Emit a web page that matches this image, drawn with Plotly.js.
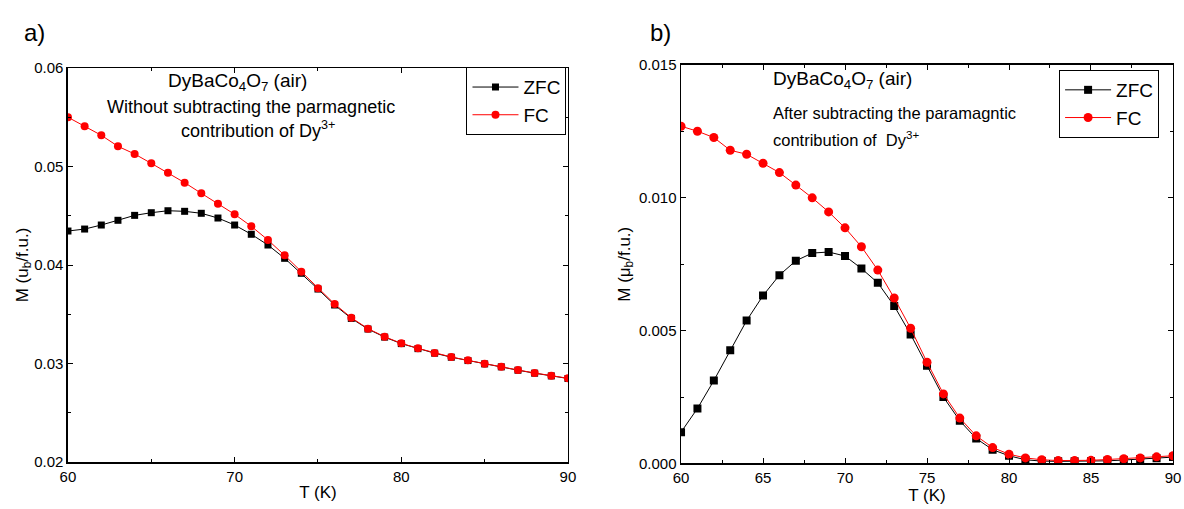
<!DOCTYPE html>
<html><head><meta charset="utf-8">
<script src="https://cdn.plot.ly/plotly-3.0.1.min.js"></script>
<style>html,body{margin:0;padding:0;background:#fff}#chart{width:1184px;height:509px}</style>
</head><body><div id="chart"></div>
<script>
const T = [60,61,62,63,64,65,66,67,68,69,70,71,72,73,74,75,76,77,78,79,80,81,82,83,84,85,86,87,88,89,90];

const zfcA = [0.04345,0.04365,0.04406,0.04454,0.04504,0.04531,0.04551,0.04545,0.04525,0.04477,0.04406,0.04312,0.04203,0.04068,0.03916,0.03756,0.03594,0.03458,0.03350,0.03268,0.03202,0.03151,0.03105,0.03064,0.03030,0.02996,0.02966,0.02932,0.02902,0.02874,0.02848];
const fcA  = [0.05500,0.05408,0.05317,0.05205,0.05127,0.05032,0.04937,0.04836,0.04728,0.04622,0.04515,0.04393,0.04254,0.04098,0.03932,0.03763,0.03604,0.03465,0.03354,0.03272,0.03205,0.03154,0.03107,0.03066,0.03032,0.02998,0.02968,0.02934,0.02904,0.02876,0.02850];

const zfcB = [0.00118,0.00207,0.00312,0.00426,0.00538,0.00632,0.00709,0.00763,0.00792,0.00796,0.00781,0.00734,0.00680,0.00593,0.00486,0.00368,0.00250,0.00161,0.00094,0.00052,0.00029,0.00014,0.00009,0.00008,0.00008,0.00008,0.00010,0.00013,0.00017,0.00020,0.00024];
const fcB  = [0.012695,0.012507,0.01227,0.01179,0.01164,0.01130,0.01095,0.01048,0.01000,0.00947,0.00887,0.00816,0.00728,0.00623,0.00509,0.00381,0.00262,0.00171,0.00104,0.00060,0.00035,0.00021,0.00014,0.00011,0.00011,0.00012,0.00015,0.00018,0.00021,0.00025,0.00029];

const seriesNames = ['ZFC','FC'];
const FONT = 'Liberation Sans, Arial, sans-serif';

const traces = [
  {x:T,y:zfcA,name:seriesNames[0],mode:'lines+markers',line:{color:'black',width:1},marker:{symbol:'square',size:7,color:'black'},xaxis:'x',yaxis:'y',legend:'legend'},
  {x:T,y:fcA,name:seriesNames[1],mode:'lines+markers',line:{color:'red',width:1},marker:{symbol:'circle',size:8,color:'red'},xaxis:'x',yaxis:'y',legend:'legend'},
  {x:T,y:zfcB,name:seriesNames[0],mode:'lines+markers',line:{color:'black',width:1},marker:{symbol:'square',size:8,color:'black'},xaxis:'x2',yaxis:'y2',legend:'legend2'},
  {x:T,y:fcB,name:seriesNames[1],mode:'lines+markers',line:{color:'red',width:1},marker:{symbol:'circle',size:9,color:'red'},xaxis:'x2',yaxis:'y2',legend:'legend2'}
];

const axCommon = {showgrid:false,zeroline:false,showline:true,linecolor:'black',linewidth:1.5,mirror:'allticks',ticks:'inside',ticklen:5,tickcolor:'black',tickfont:{family:FONT,size:15,color:'black'}};
const mnr = v => ({tickvals:v,ticks:'inside',ticklen:3,tickcolor:'black'});

const layout = {
  width:1184,height:509,margin:{l:0,r:0,t:0,b:0},paper_bgcolor:'white',plot_bgcolor:'white',
  font:{family:FONT,color:'black'},
  xaxis:Object.assign({},axCommon,{domain:[0.0574,0.4797],range:[60,90],tickvals:[60,70,80,90],minor:mnr([65,75,85]),ticklabelstandoff:0,
    title:{text:'T (K)',font:{family:FONT,size:17},standoff:2},anchor:'y'}),
  yaxis:Object.assign({},axCommon,{domain:[0.0923,0.8664],range:[0.02,0.06],tickvals:[0.02,0.03,0.04,0.05,0.06],tickformat:'.2f',minor:mnr([0.025,0.035,0.045,0.055]),
    title:{text:'M (u<sub>b</sub>/f.u.)',font:{family:FONT,size:17},standoff:0},anchor:'x'}),
  xaxis2:Object.assign({},axCommon,{domain:[0.5752,0.9907],range:[60,90],tickvals:[60,65,70,75,80,85,90],minor:mnr([62.5,67.5,72.5,77.5,82.5,87.5]),ticklabelstandoff:0,
    title:{text:'T (K)',font:{family:FONT,size:17},standoff:4},anchor:'y2'}),
  yaxis2:Object.assign({},axCommon,{domain:[0.0894,0.8723],range:[0,0.015],tickvals:[0,0.005,0.010,0.015],tickformat:'.3f',minor:mnr([0.0025,0.0075,0.0125]),
    title:{text:'M (μ<sub>b</sub>/f.u.)',font:{family:FONT,size:17},standoff:4},anchor:'x2'}),
  legend:{x:0.394,y:0.868,xanchor:'left',yanchor:'top',bgcolor:'white',bordercolor:'black',borderwidth:1,font:{family:FONT,size:19},itemwidth:46,tracegroupgap:0},
  legend2:{x:0.8945,y:0.8625,xanchor:'left',yanchor:'top',bgcolor:'white',bordercolor:'black',borderwidth:1,font:{family:FONT,size:19},itemwidth:46,tracegroupgap:0},
  showlegend:true,
  annotations:[
    {text:'a)',x:34/1184,y:1-33/509,xref:'paper',yref:'paper',xanchor:'center',yanchor:'middle',showarrow:false,font:{family:FONT,size:24}},
    {text:'b)',x:661/1184,y:1-33/509,xref:'paper',yref:'paper',xanchor:'center',yanchor:'middle',showarrow:false,font:{family:FONT,size:24}},
    {text:'DyBaCo<sub>4</sub>O<sub>7</sub> (air)',x:237/1184,y:1-82/509,xref:'paper',yref:'paper',xanchor:'center',yanchor:'middle',showarrow:false,font:{family:FONT,size:19}},
    {text:'Without subtracting the parmagnetic',x:251/1184,y:1-107/509,xref:'paper',yref:'paper',xanchor:'center',yanchor:'middle',showarrow:false,font:{family:FONT,size:18}},
    {text:'contribution of Dy<sup>3+</sup>',x:258/1184,y:1-129/509,xref:'paper',yref:'paper',xanchor:'center',yanchor:'middle',showarrow:false,font:{family:FONT,size:18}},
    {text:'DyBaCo<sub>4</sub>O<sub>7</sub> (air)',x:771/1184,y:1-80/509,xref:'paper',yref:'paper',xanchor:'left',yanchor:'middle',showarrow:false,font:{family:FONT,size:19}},
    {text:'After subtracting the paramagntic',x:771/1184,y:1-113/509,xref:'paper',yref:'paper',xanchor:'left',yanchor:'middle',showarrow:false,font:{family:FONT,size:16.5}},
    {text:'contribution of  Dy<sup>3+</sup>',x:771/1184,y:1-139/509,xref:'paper',yref:'paper',xanchor:'left',yanchor:'middle',showarrow:false,font:{family:FONT,size:16.5}}
  ]
};
Plotly.newPlot('chart',traces,layout,{displayModeBar:false,staticPlot:true});
</script></body></html>
